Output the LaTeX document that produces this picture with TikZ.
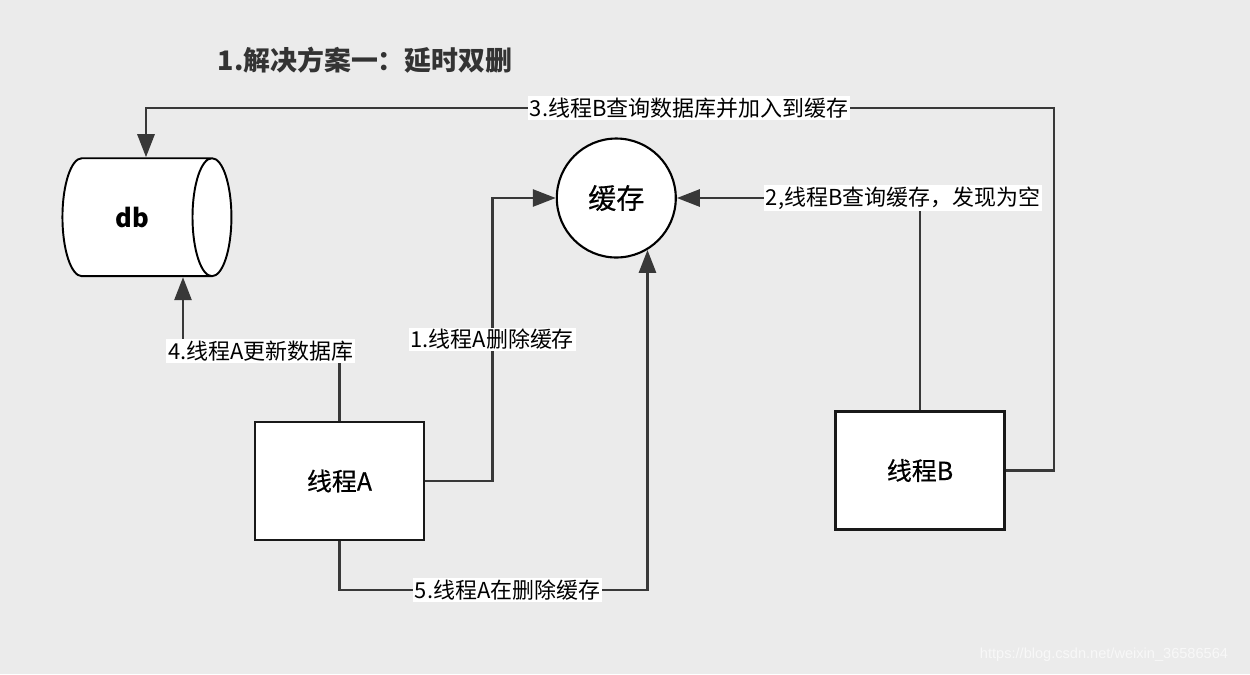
\documentclass[tikz,border=0pt]{standalone}
\usepackage{fontspec}
\setmainfont{Noto Sans CJK SC}
\newfontfamily\medfont[FakeBold=0.4]{Noto Sans CJK SC}
\newfontfamily\wmfont{Liberation Sans}
\usetikzlibrary{shapes.geometric,arrows.meta}

\definecolor{bgcol}{HTML}{EBEBEB}
\definecolor{linecol}{HTML}{383838}
\definecolor{wmcol}{HTML}{F8F8F8}

\tikzset{
  thread/.style={draw=black!90, line width=1.4pt, fill=white, minimum width=3.38cm, minimum height=2.36cm, font=\medfont\fontsize{14.2}{16}\selectfont},
  conn/.style={draw=linecol, line width=1.6pt},
  arr/.style={conn, -{Triangle[length=0.46cm, width=0.34cm]}},
  lbl/.style={fill=white, inner xsep=1pt, inner ysep=1pt, anchor=center, font=\fontsize{12.5}{15}\selectfont}
}

\begin{document}
\begin{tikzpicture}[x=0.02cm, y=-0.02cm]

    \fill[bgcol] (0,0) rectangle (1250,674);
    \useasboundingbox (0,0) rectangle (1250,674);

    \node[font=\bfseries\fontsize{15.3}{18}\selectfont, text=black!80] (title) at (365,60) {1.解决方案一：延时双删};

    % horizontal cylinder: min height runs along the axis
    \node[draw, cylinder, shape aspect=1.2, fill=white, line width=1.1pt, minimum width=2.36cm, minimum height=3.38cm, font=\bfseries\fontsize{14.5}{16}\selectfont] (db) at (132.5,217.2) {db\hspace{0.5cm}};
    \node[draw, circle, fill=white, line width=1.2pt, minimum size=2.38cm, font=\medfont\fontsize{16}{18}\selectfont] (cache) at (616.3,198) {缓存};

    \node[thread] (thA) at (339.5,481) {线程A};
    \node[thread] (thB) at (920,470.5) {线程B};

    \coordinate (c3) at (146,108);
    \coordinate (c4) at (183,351);
    \path (cache.-59) ++(0,340) coordinate (c5);

    \draw[arr] (thA.east) -- ++(67,0) |- node[lbl, pos=0.25] {1.线程A删除缓存} (cache.west);
    \draw[arr] (thB.north) |- node[lbl, pos=0.535] {2,线程B查询缓存，发现为空} (cache.east);
    \draw[arr] (thB.east) -- ++(48.3,0) |- node[lbl, pos=0.701] {3.线程B查询数据库并加入到缓存} (c3) -- (c3 |- db.north);
    \draw[arr] (thA.north) |- node[lbl, pos=0.751] {4.线程A更新数据库} (c4) -- (c4 |- db.south);
    \draw[arr] (thA.south) |- node[lbl, pos=0.773] {5.线程A在删除缓存} (c5) -- (cache.-59);

    \node[font=\wmfont\fontsize{8.3}{10}\selectfont, text=wmcol] (wm) at (1104,655) {https://blog.csdn.net/weixin\_36586564};

\end{tikzpicture}
\end{document}
